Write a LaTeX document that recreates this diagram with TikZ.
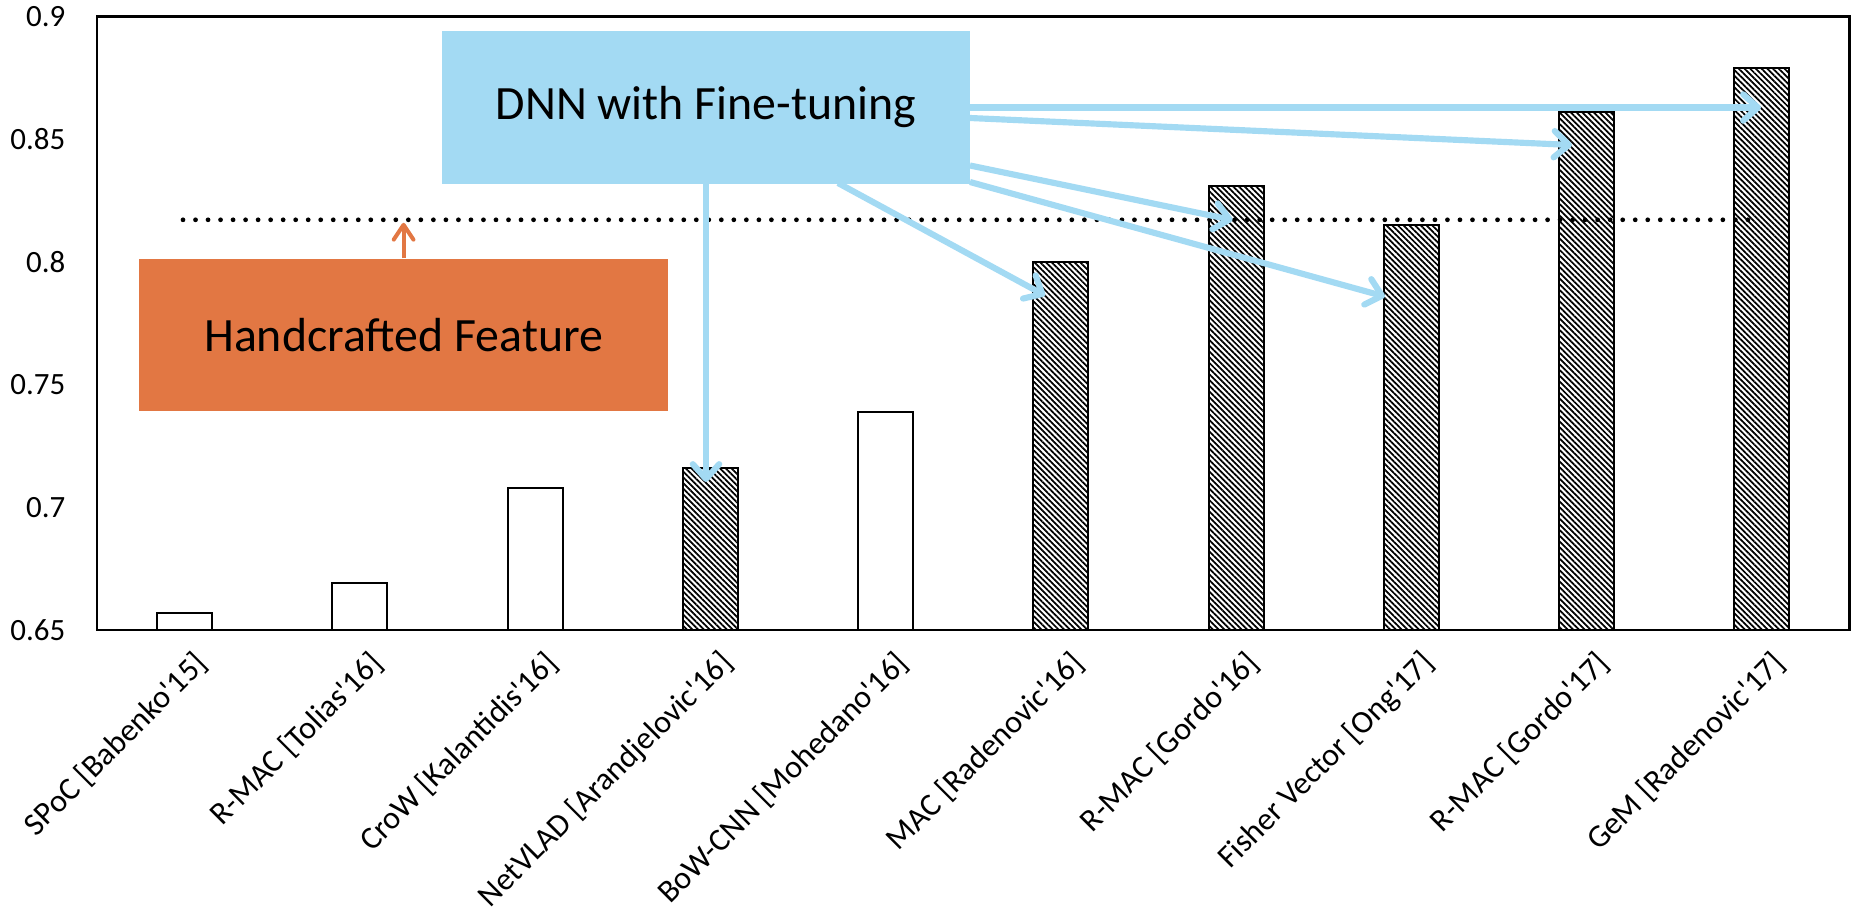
\documentclass[tikz,border=0pt]{standalone}
\usepackage{fontspec}
\setmainfont{Carlito}
\newfontfamily\chartfont{Carlito}
\usetikzlibrary{arrows.meta,patterns.meta,calc}
\definecolor{dnnblue}{HTML}{A3DAF3}
\definecolor{hforange}{HTML}{E27743}
\begin{document}
\begin{tikzpicture}[x=0.01cm,y=-0.01cm,
  frame/.style={draw=black,line width=0.7pt},
  plainbar/.style={draw=black,line width=0.6pt,fill=white},
  hatchbar/.style={draw=black,line width=0.6pt,pattern={Lines[angle=-45,distance=1.15pt,line width=0.5pt]}},
  ticklab/.style={anchor=east,inner sep=0pt,font=\chartfont\fontsize{8.8}{10}\selectfont},
  catlab/.style={anchor=east,rotate=45,inner sep=0pt,font=\chartfont\fontsize{9.1}{11}\selectfont},
  bigbox/.style={minimum width=5.28cm,minimum height=1.52cm,inner sep=0pt,font=\chartfont\fontsize{13.6}{16}\selectfont},
  bluearrow/.style={draw=dnnblue,line width=1.75pt,-{Straight Barb[length=4.2pt,width=7.5pt,round]}},
  orangearrow/.style={draw=hforange,line width=1.15pt,-{Straight Barb[length=4.2pt,width=5.6pt,round]}},
  dotline/.style={draw=black,line width=1.35pt,line cap=round,dash pattern=on 0pt off 3.56pt}
]
\useasboundingbox (0,0) rectangle (1853,915);
% frame
\draw[frame] (97,16.5) rectangle (1849.5,630);
% tick labels
\foreach \v/\t in {0.65/0.65,0.7/0.7,0.75/0.75,0.8/0.8,0.85/0.85,0.9/0.9}
  \node[ticklab] (tick\t) at (66,{630-(\v-0.65)*2454}) {\t};
% plain bars
\foreach \i/\v in {0/0.657,1/0.669,2/0.708,4/0.739}{
  \pgfmathsetmacro{\cx}{184.6+175.25*\i}
  \pgfmathsetmacro{\ty}{630-(\v-0.65)*2454}
  \draw[plainbar] (\cx-27.5,630) rectangle (\cx+27.5,\ty);
}
% hatched bars
\foreach \i/\v in {3/0.716,5/0.800,6/0.831,7/0.815,8/0.861,9/0.879}{
  \pgfmathsetmacro{\cx}{184.6+175.25*\i}
  \pgfmathsetmacro{\ty}{630-(\v-0.65)*2454}
  \draw[hatchbar] (\cx-27.5,630) rectangle (\cx+27.5,\ty);
}
% category labels
\foreach \i/\t in {0/{SPoC [Babenko'15]},1/{R-MAC [Tolias'16]},2/{CroW [Kalantidis'16]},3/{NetVLAD [Arandjelovic'16]},4/{BoW-CNN [Mohedano'16]},5/{MAC [Radenovic'16]},6/{R-MAC [Gordo'16]},7/{Fisher Vector [Ong'17]},8/{R-MAC [Gordo'17]},9/{GeM [Radenovic'17]}}{
  \pgfmathsetmacro{\cx}{184.6+175.25*\i}
  \node[catlab] (cat\i) at (\cx+18,658) {\t};
}
% dotted line
\coordinate (dotL) at (183,219.8);
\coordinate (dotR) at (1755,219.8);
\draw[dotline] (dotL) -- (dotR);
% boxes
\node[bigbox,fill=hforange] (hf) at (403.6,335) {\raisebox{-0.6pt}{Handcrafted Feature}};
\node[bigbox,fill=dnnblue] (dnn) at (706,107.5) {\raisebox{-0.9pt}{DNN with Fine-tuning}};
% orange arrow
\coordinate (hftip) at ($(hf.north |- dotL)+(0,3)$);
\draw[orangearrow] (hf.north) -- (hftip);
% blue arrows
\coordinate (a2s) at (838,183);
\coordinate (a3s) at (970,165.5);
\coordinate (a4s) at (970,182);
\coordinate (a5s) at (970,118);
\coordinate (a6s) at (970,107.5);
\coordinate (a1e) at (706,482);
\coordinate (a2e) at (1045,295.5);
\coordinate (a3e) at (1232.6,220);
\coordinate (a4e) at (1385,296.6);
\coordinate (a5e) at (1572,145);
\coordinate (a6e) at (1761,107.5);
\draw[bluearrow] (dnn.south) -- (a1e);
\draw[bluearrow] (a2s) -- (a2e);
\draw[bluearrow] (a3s) -- (a3e);
\draw[bluearrow] (a4s) -- (a4e);
\draw[bluearrow] (a5s) -- (a5e);
\draw[bluearrow] (a6s) -- (a6e);
\end{tikzpicture}
\end{document}
